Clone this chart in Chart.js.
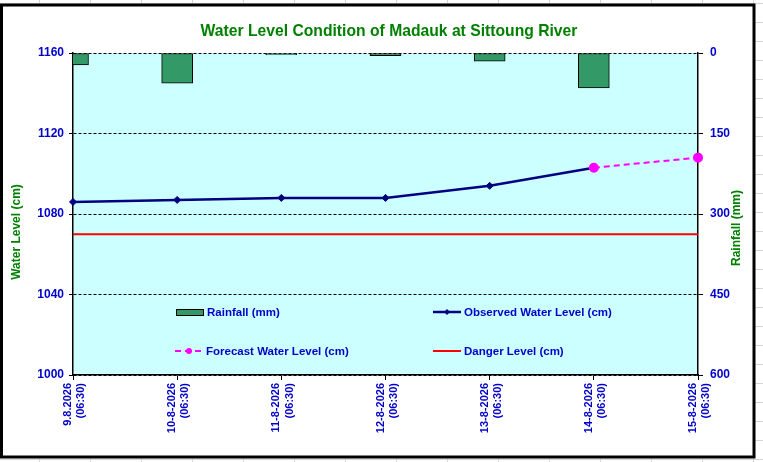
<!DOCTYPE html>
<html>
<head>
<meta charset="utf-8">
<title>Water Level Condition of Madauk at Sittoung River</title>
<script src="https://cdn.jsdelivr.net/npm/chart.js@4.4.1/dist/chart.umd.min.js"></script>
<style>
  html, body { margin: 0; padding: 0; background: #fff; }
  canvas { display: block; }
</style>
</head>
<body>
<canvas id="chart" width="763" height="462"></canvas>
<script>
// values
const dates = [
    ['9.8.2026', '(06:30)'],
    ['10-8-2026', '(06:30)'],
    ['11-8-2026', '(06:30)'],
    ['12-8-2026', '(06:30)'],
    ['13-8-2026', '(06:30)'],
    ['14-8-2026', '(06:30)'],
    ['15-8-2026', '(06:30)']
];
const rainfall = [22, 56, 3, 5, 15, 65, null];
const observedLevel = [1086, 1087, 1088, 1088, 1094, 1103, null];
const forecastLevel = [null, null, null, null, null, 1103, 1108];
const dangerLevel = [1070, 1070, 1070, 1070, 1070, 1070, 1070];
const levelTicks = [1000, 1040, 1080, 1120, 1160];
const rainTicks = [0, 150, 300, 450, 600];

const FONT = "'Liberation Sans', Arial, sans-serif";
const BLUE = '#0000CC';
const GREEN = '#008000';

// background, spreadsheet grid outside the frame, frame, plot fill
const backdrop = {
    id: 'backdrop',
    beforeDraw(chart) {
        const ctx = chart.ctx;
        const a = chart.chartArea;
        ctx.save();
        ctx.fillStyle = '#fff';
        ctx.fillRect(0, 0, chart.width, chart.height);
        ctx.strokeStyle = '#d4d4d4';
        ctx.lineWidth = 1;
        for (let x = 39.5; x < chart.width; x += 51) {
            ctx.beginPath(); ctx.moveTo(x, 0); ctx.lineTo(x, chart.height); ctx.stroke();
        }
        for (let y = 3.5; y < chart.height; y += 19) {
            ctx.beginPath(); ctx.moveTo(0, y); ctx.lineTo(chart.width, y); ctx.stroke();
        }
        ctx.fillStyle = '#fff';
        ctx.fillRect(1.5, 5, 752.5, 452);
        ctx.strokeStyle = '#000';
        ctx.lineWidth = 3;
        ctx.strokeRect(1.5, 5, 752.5, 452);
        ctx.fillStyle = '#CCFFFF';
        ctx.fillRect(a.left, a.top, a.right - a.left, a.bottom - a.top);
        ctx.restore();
    }
};

// title, axis titles and the in-plot legend
const labels = {
    id: 'labels',
    afterDraw(chart) {
        const ctx = chart.ctx;
        ctx.save();
        ctx.fillStyle = GREEN;
        ctx.textAlign = 'center';
        ctx.textBaseline = 'middle';
        ctx.font = 'bold 15.7px ' + FONT;
        ctx.fillText('Water Level Condition of Madauk at Sittoung River', 389, 32);

        ctx.font = 'bold 12px ' + FONT;
        ctx.save();
        ctx.translate(17, 232);
        ctx.rotate(-Math.PI / 2);
        ctx.fillText('Water Level (cm)', 0, 0);
        ctx.restore();
        ctx.save();
        ctx.translate(737, 228);
        ctx.rotate(-Math.PI / 2);
        ctx.fillText('Rainfall (mm)', 0, 0);
        ctx.restore();

        const slots = [[176, 312], [433, 312], [175, 351], [433, 351]];
        ctx.font = 'bold 11.5px ' + FONT;
        ctx.textAlign = 'left';
        chart.data.datasets.forEach((ds, i) => {
            const x = slots[i][0], y = slots[i][1];
            if (ds.type === 'bar') {
                ctx.fillStyle = ds.backgroundColor;
                ctx.fillRect(x, y - 3, 27, 6);
                ctx.strokeStyle = ds.borderColor;
                ctx.lineWidth = 1;
                ctx.strokeRect(x + 0.5, y - 2.5, 27, 6);
            } else {
                ctx.strokeStyle = ds.borderColor;
                ctx.lineWidth = ds.borderWidth;
                ctx.setLineDash(ds.borderDash || []);
                ctx.beginPath(); ctx.moveTo(x, y); ctx.lineTo(x + 28, y); ctx.stroke();
                ctx.setLineDash([]);
                if (ds.pointRadius > 0) {
                    ctx.fillStyle = ds.pointBackgroundColor;
                    ctx.beginPath();
                    if (ds.pointStyle === 'rectRot') {
                        ctx.moveTo(x + 14, y - 3); ctx.lineTo(x + 17, y);
                        ctx.lineTo(x + 14, y + 3); ctx.lineTo(x + 11, y);
                    } else {
                        ctx.arc(x + 14, y, 3, 0, Math.PI * 2);
                    }
                    ctx.fill();
                }
            }
            ctx.fillStyle = BLUE;
            ctx.fillText(ds.label, x + 31, y + 1);
        });
        ctx.restore();
    }
};

const tickFont = { family: FONT, size: 12, weight: 'bold' };

new Chart(document.getElementById('chart'), {
    type: 'bar',
    data: {
        labels: dates,
        datasets: [
            {
                type: 'bar',
                label: 'Rainfall (mm)',
                data: rainfall,
                yAxisID: 'y1',
                backgroundColor: '#339966',
                borderColor: '#000',
                borderWidth: 1,
                borderSkipped: false,
                barThickness: 31,
                clip: 0,
                order: 3
            },
            {
                type: 'line',
                label: 'Observed Water Level (cm)',
                data: observedLevel,
                yAxisID: 'y',
                borderColor: '#000080',
                borderWidth: 2.5,
                pointStyle: 'rectRot',
                pointRadius: 3.5,
                pointBackgroundColor: '#000080',
                pointBorderColor: '#000080',
                pointBorderWidth: 1,
                tension: 0,
                order: 1
            },
            {
                type: 'line',
                label: 'Forecast Water Level (cm)',
                data: forecastLevel,
                yAxisID: 'y',
                borderColor: '#FF00FF',
                borderWidth: 2,
                borderDash: [6, 4],
                pointStyle: 'circle',
                pointRadius: 4,
                pointBackgroundColor: '#FF00FF',
                pointBorderColor: '#FF00FF',
                tension: 0,
                order: 0
            },
            {
                type: 'line',
                label: 'Danger Level (cm)',
                data: dangerLevel,
                yAxisID: 'y',
                borderColor: '#FF0000',
                borderWidth: 2,
                pointRadius: 0,
                tension: 0,
                order: 2
            }
        ]
    },
    options: {
        responsive: false,
        animation: false,
        devicePixelRatio: 1,
        layout: { padding: { top: 53, left: 0, right: 0, bottom: 0 } },
        plugins: {
            legend: { display: false },
            title: { display: false },
            tooltip: { enabled: false }
        },
        scales: {
            x: {
                type: 'category',
                offset: false,
                grid: {
                    offset: false,
                    drawOnChartArea: false,
                    drawTicks: true,
                    tickLength: 5,
                    tickColor: '#000'
                },
                border: { display: true, color: '#000', width: 1.5 },
                ticks: {
                    color: BLUE,
                    font: { family: FONT, size: 11, weight: 'bold' },
                    minRotation: 90,
                    maxRotation: 90,
                    autoSkip: false,
                    padding: 3,
                    labelOffset: -5
                },
                afterFit(scale) { scale.height = 87; }
            },
            y: {
                position: 'left',
                min: levelTicks[0],
                max: levelTicks[levelTicks.length - 1],
                ticks: {
                    stepSize: levelTicks[1] - levelTicks[0],
                    color: BLUE,
                    font: tickFont,
                    padding: 5,
                    callback: v => String(v)
                },
                grid: {
                    color: '#000',
                    lineWidth: 1,
                    tickBorderDash: [],
                    tickColor: '#000',
                    tickLength: 4
                },
                border: { display: true, color: '#000', width: 1.5, dash: [3, 2] },
                afterFit(scale) { scale.width = 73; }
            },
            y1: {
                position: 'right',
                reverse: true,
                min: rainTicks[0],
                max: rainTicks[rainTicks.length - 1],
                ticks: {
                    stepSize: rainTicks[1] - rainTicks[0],
                    color: BLUE,
                    font: tickFont,
                    padding: 7,
                    callback: v => String(v)
                },
                grid: {
                    drawOnChartArea: false,
                    tickColor: '#000',
                    tickLength: 5
                },
                border: { display: true, color: '#000', width: 1.5 },
                afterFit(scale) { scale.width = 65; }
            }
        }
    },
    plugins: [backdrop, labels]
});
</script>
</body>
</html>
